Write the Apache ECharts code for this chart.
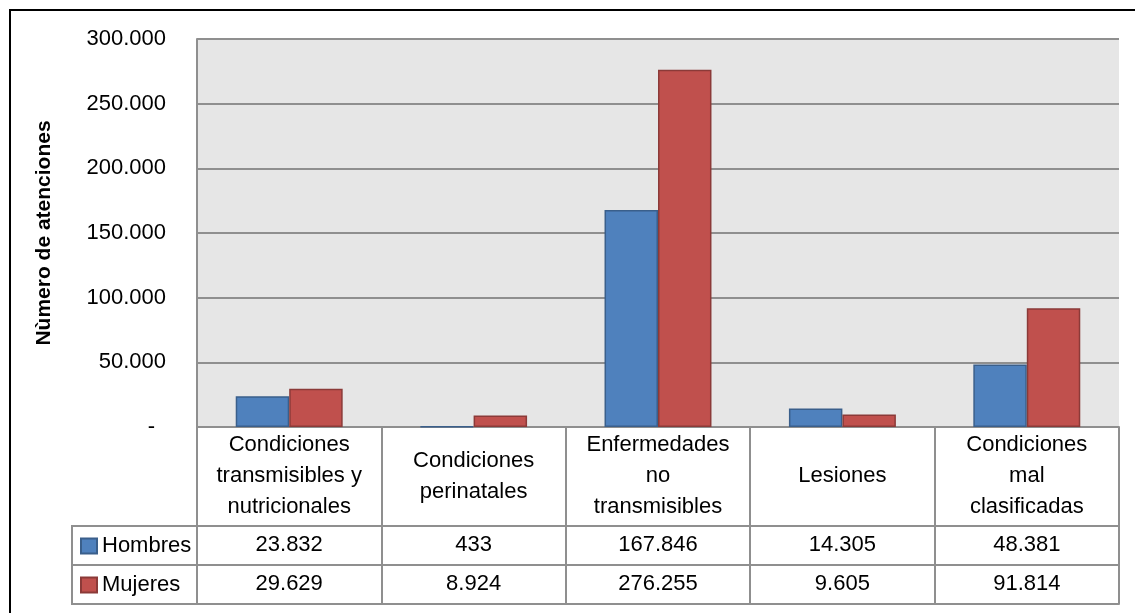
<!DOCTYPE html>
<html>
<head>
<meta charset="utf-8">
<title>Número de atenciones</title>
<script src="https://cdn.jsdelivr.net/npm/echarts@6/dist/echarts.min.js"></script>
<style>
  html, body { margin: 0; padding: 0; background: #fff; }
  #main { width: 1135px; height: 613px; }
</style>
</head>
<body>
<div id="main"></div>
<script>
var categorias = ['Condiciones\ntransmisibles y\nnutricionales', 'Condiciones\nperinatales', 'Enfermedades\nno\ntransmisibles', 'Lesiones', 'Condiciones\nmal\nclasificadas'];
var hombres = [23832, 433, 167846, 14305, 48381];
var mujeres = [29629, 8924, 276255, 9605, 91814];
var ticksY = [0, 50000, 100000, 150000, 200000, 250000, 300000];

var FONT = "'Liberation Sans', Arial, sans-serif";
var FS = 22;
var GRIS = '#8f8f8f';

function fmt(v) {
  // separador de miles con punto
  return String(v).replace(/\B(?=(\d{3})+(?!\d))/g, '.');
}

var myChart = echarts.init(document.getElementById('main'));

// eje de tabla: una fila por eje, desplazado hacia abajo
function filaTabla(datos, offset, tickLen, margin, lineHeight) {
  return {
    type: 'category',
    position: 'bottom',
    offset: offset,
    data: datos,
    axisLine: { show: true, lineStyle: { color: GRIS, width: 2 } },
    axisTick: { show: tickLen > 0, interval: 0, length: tickLen, lineStyle: { color: GRIS, width: 2 } },
    axisLabel: {
      show: datos.length > 0,
      interval: 0,
      margin: margin,
      verticalAlign: 'middle',
      color: '#000',
      fontSize: FS,
      lineHeight: lineHeight,
      fontFamily: FONT
    },
    splitLine: { show: false }
  };
}

var option = {
  animation: false,
  textStyle: { fontFamily: FONT },
  grid: {
    left: 197, right: 16, top: 39, bottom: 186,
    show: true, backgroundColor: '#e6e6e6', borderWidth: 0
  },
  legend: {
    orient: 'vertical',
    left: 80, top: 535,
    padding: 0,
    icon: 'rect',
    itemWidth: 16, itemHeight: 15,
    itemGap: 17,
    selectedMode: false,
    textStyle: { color: '#000', fontSize: FS, lineHeight: 22, fontFamily: FONT },
    data: ['Hombres', 'Mujeres']
  },
  xAxis: [
    filaTabla(categorias, 0, 99, 49, 31),
    filaTabla(hombres.map(fmt), 99, 39, 19, 22),
    filaTabla(mujeres.map(fmt), 138, 39, 19, 22),
    filaTabla([], 177, 0, 0, 22)
  ],
  yAxis: {
    type: 'value',
    min: ticksY[0], max: ticksY[ticksY.length - 1], interval: ticksY[1] - ticksY[0],
    name: 'Nùmero de atenciones',
    nameLocation: 'middle',
    nameGap: 142,
    nameTextStyle: { color: '#000', fontSize: 21, fontWeight: 'bold', fontFamily: FONT },
    axisLine: { show: true, lineStyle: { color: GRIS, width: 2 } },
    axisTick: { show: false },
    axisLabel: {
      margin: 31,
      color: '#000',
      fontSize: FS,
      fontFamily: FONT,
      formatter: function (v) { return v === 0 ? '{d|-}' : fmt(v); },
      rich: { d: { fontSize: FS, color: '#000', fontFamily: FONT, padding: [0, 11, 0, 0] } }
    },
    splitLine: { show: true, lineStyle: { color: GRIS, width: 2 } }
  },
  series: [
    {
      name: 'Hombres', type: 'bar', xAxisIndex: 0,
      data: hombres,
      barGap: '0%', barCategoryGap: '42%',
      itemStyle: { color: '#4f81bd', borderColor: '#3a5f8b', borderWidth: 1.5 }
    },
    {
      name: 'Mujeres', type: 'bar', xAxisIndex: 0,
      data: mujeres,
      barGap: '0%', barCategoryGap: '42%',
      itemStyle: { color: '#c0504d', borderColor: '#8b3a38', borderWidth: 1.5 }
    }
  ],
  graphic: [
    // celdas de la leyenda a la izquierda de la tabla
    { type: 'polyline', z: 10, shape: { points: [[197, 526], [72, 526], [72, 604], [197, 604]] }, style: { fill: null, stroke: GRIS, lineWidth: 2 } },
    { type: 'line', z: 10, shape: { x1: 72, y1: 565, x2: 197, y2: 565 }, style: { stroke: GRIS, lineWidth: 2 } },
    { type: 'line', z: 10, shape: { x1: 197, y1: 427, x2: 197, y2: 604 }, style: { stroke: GRIS, lineWidth: 2 } },
    // marco exterior
    { type: 'polyline', z: 10, shape: { points: [[10, 700], [10, 10], [1200, 10]] }, style: { fill: null, stroke: '#000', lineWidth: 2 } }
  ]
};

myChart.setOption(option);
</script>
</body>
</html>
